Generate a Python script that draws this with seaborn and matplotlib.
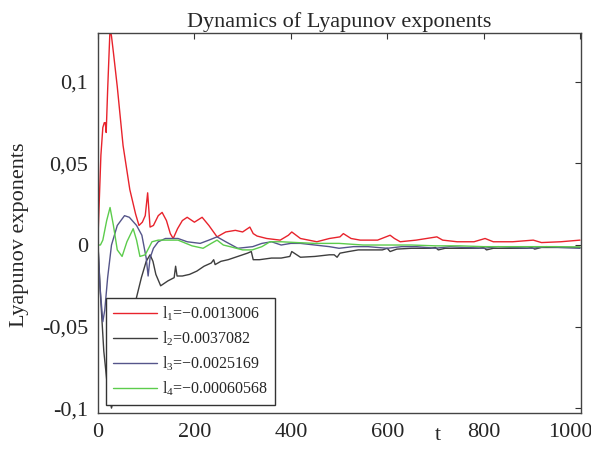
import matplotlib
matplotlib.use("Agg")
import matplotlib.pyplot as plt
import matplotlib.transforms as mtransforms
import seaborn as sns

# ---- data ----
t1 = [0, 3, 6, 10, 13, 15, 17, 20, 25, 28,
      32, 40, 52, 66, 78, 85, 92, 98, 103, 108,
      115, 125, 133, 142, 150, 156, 165, 175, 185, 200,
      216, 230, 247, 265, 285, 300, 315, 322, 330, 350,
      378, 395, 402, 420, 454, 480, 502, 509, 525, 544,
      580, 606, 615, 627, 660, 703, 715, 745, 780, 803,
      820, 860, 903, 920, 960, 1000]
l1 = [0.005, 0.03, 0.055, 0.072, 0.075, 0.075, 0.069, 0.095, 0.133, 0.128,
      0.118, 0.097, 0.061, 0.034, 0.019, 0.012, 0.014, 0.018, 0.032, 0.011,
      0.012, 0.018, 0.020, 0.015, 0.007, 0.004, 0.010, 0.015, 0.017, 0.014,
      0.017, 0.012, 0.005, 0.008, 0.009, 0.008, 0.011, 0.007, 0.0055, 0.004,
      0.003, 0.006, 0.008, 0.004, 0.002, 0.004, 0.005, 0.007, 0.004, 0.003,
      0.003, 0.006, 0.004, 0.002, 0.003, 0.005, 0.003, 0.002, 0.002, 0.004,
      0.002, 0.002, 0.003, 0.0015, 0.002, 0.003]

t2 = [0, 5, 12, 20, 28, 40, 55, 70, 80, 90,
      100, 108, 114, 120, 130, 145, 158, 161, 164, 175,
      190, 205, 220, 235, 240, 243, 255, 270, 290, 310,
      318, 322, 335, 360, 380, 398, 402, 420, 450, 480,
      490, 496, 502, 520, 540, 560, 590, 600, 606, 620,
      650, 690, 700, 706, 720, 750, 790, 800, 806, 820,
      850, 890, 900, 906, 920, 950, 1000]
l2 = [0, -0.03, -0.065, -0.088, -0.1, -0.085, -0.06, -0.045, -0.032, -0.02,
      -0.01, -0.006, -0.01, -0.018, -0.025, -0.022, -0.02, -0.013, -0.019, -0.019,
      -0.018, -0.016, -0.013, -0.011, -0.009, -0.012, -0.01, -0.009, -0.007, -0.005,
      -0.004, -0.009, -0.009, -0.008, -0.008, -0.007, -0.004, -0.0075, -0.007, -0.006,
      -0.006, -0.0075, -0.005, -0.004, -0.003, -0.003, -0.003, -0.002, -0.004, -0.0025,
      -0.002, -0.002, -0.0015, -0.003, -0.002, -0.002, -0.002, -0.0015, -0.003, -0.002,
      -0.002, -0.002, -0.0015, -0.0025, -0.0015, -0.0015, -0.0015]

t3 = [0, 4, 10, 14, 20, 28, 40, 55, 65, 80,
      91, 100, 104, 108, 115, 125, 140, 166, 185, 212,
      230, 247, 265, 290, 321, 340, 360, 380, 400, 420,
      450, 480, 500, 530, 560, 600, 630, 660, 700, 730,
      760, 800, 830, 860, 900, 930, 960, 1000]
l3 = [0, -0.025, -0.047, -0.04, -0.02, 0.0, 0.012, 0.018, 0.017, 0.012,
      0.006, -0.008, -0.019, -0.008, -0.002, 0.002, 0.004, 0.004, 0.002, 0.001,
      0.003, 0.005, 0.002, -0.002, -0.001, 0.001, 0.002, 0.0, 0.001, 0.001,
      0.0, -0.001, -0.002, -0.001, -0.001, -0.002, -0.001, -0.001, -0.002, -0.001,
      -0.0015, -0.002, -0.001, -0.0015, -0.002, -0.001, -0.0015, -0.002]

t4 = [0, 5, 10, 18, 25, 32, 40, 50, 60, 73,
      80, 87, 98, 112, 125, 139, 166, 195, 218, 235,
      247, 260, 274, 300, 320, 340, 357, 380, 413, 450,
      500, 550, 600, 650, 700, 750, 800, 850, 900, 950,
      1000]
l4 = [0, 0.0, 0.003, 0.015, 0.023, 0.012, -0.003, -0.007, 0.002, 0.010,
      0.003, -0.007, -0.006, 0.002, 0.003, 0.003, 0.003, -0.0005, -0.002, 0.001,
      0.003, 0.0, -0.001, -0.003, -0.003, -0.001, 0.002, 0.002, 0.0015, 0.001,
      0.001, 0.0, 0.0, 0.0, -0.0005, -0.0005, -0.001, -0.001, -0.001, -0.001,
      -0.0012]

labels = [r"l$_{1}$=−0.0013006", r"l$_{2}$=0.0037082",
          r"l$_{3}$=−0.0025169", r"l$_{4}$=−0.00060568"]
colors = ["#e8232c", "#3e3e3e", "#55558a", "#5ccc4c"]

yticks = [-0.1, -0.05, 0, 0.05, 0.1]
yticklabels = ["-0,1", "-0,05", "0", "0,05", "0,1"]
xticks = [0, 200, 400, 600, 800, 1000]

# ---- style ----
sns.set_style("white")
plt.rcParams["font.family"] = ["Liberation Serif", "DejaVu Serif"]
plt.rcParams["mathtext.default"] = "regular"
plt.rcParams["mathtext.fontset"] = "custom"
plt.rcParams["mathtext.rm"] = "Liberation Serif"

fig = plt.figure(figsize=(5.91, 4.53), dpi=100)
ax = fig.add_axes([98 / 591, 40 / 453, 483 / 591, 380 / 453])

series = [(t1, l1), (t2, l2), (t3, l3), (t4, l4)]
for (tt, vv), lab, col in zip(series, labels, colors):
    sns.lineplot(x=tt, y=vv, ax=ax, color=col, linewidth=1.0, label=lab,
                 sort=False, estimator=None)

ax.set_xlim(0, 1002)
ax.set_ylim(-0.103, 0.130)
ax.set_xticks(xticks)
ax.set_xticklabels([str(x) for x in xticks])
ax.set_yticks(yticks)
ax.set_yticklabels(yticklabels)
ax.tick_params(direction="in", top=True, right=True, length=4, width=0.8,
               labelsize=16, pad=7, color="#333333")
for sp in ax.spines.values():
    sp.set_color("#444444")
    sp.set_linewidth(1.0)

# keep the last x tick label inside the figure (the reference shows it shifted left)
last = ax.get_xticklabels()[-1]
last.set_transform(last.get_transform() +
                   mtransforms.ScaledTranslation(-10 / 100, 0, fig.dpi_scale_trans))

ax.set_title("Dynamics of Lyapunov exponents", fontsize=16, pad=4)
ax.set_xlabel("t", fontsize=16)
ax.xaxis.set_label_coords(0.703, -0.035)
ax.set_ylabel("Lyapunov exponents", fontsize=16)
ax.yaxis.set_label_coords(-0.142, 0.47)

leg = ax.legend(loc="lower left", bbox_to_anchor=(0.0166, 0.021),
                fontsize=11.5, frameon=True, fancybox=False,
                handlelength=2.75, handletextpad=0.3, labelspacing=0.4,
                borderpad=0.45, borderaxespad=0.0)
leg.get_frame().set_edgecolor("#333333")
leg.get_frame().set_linewidth(1.0)
leg.get_frame().set_alpha(1.0)

fig.savefig("out.png", dpi=100)
